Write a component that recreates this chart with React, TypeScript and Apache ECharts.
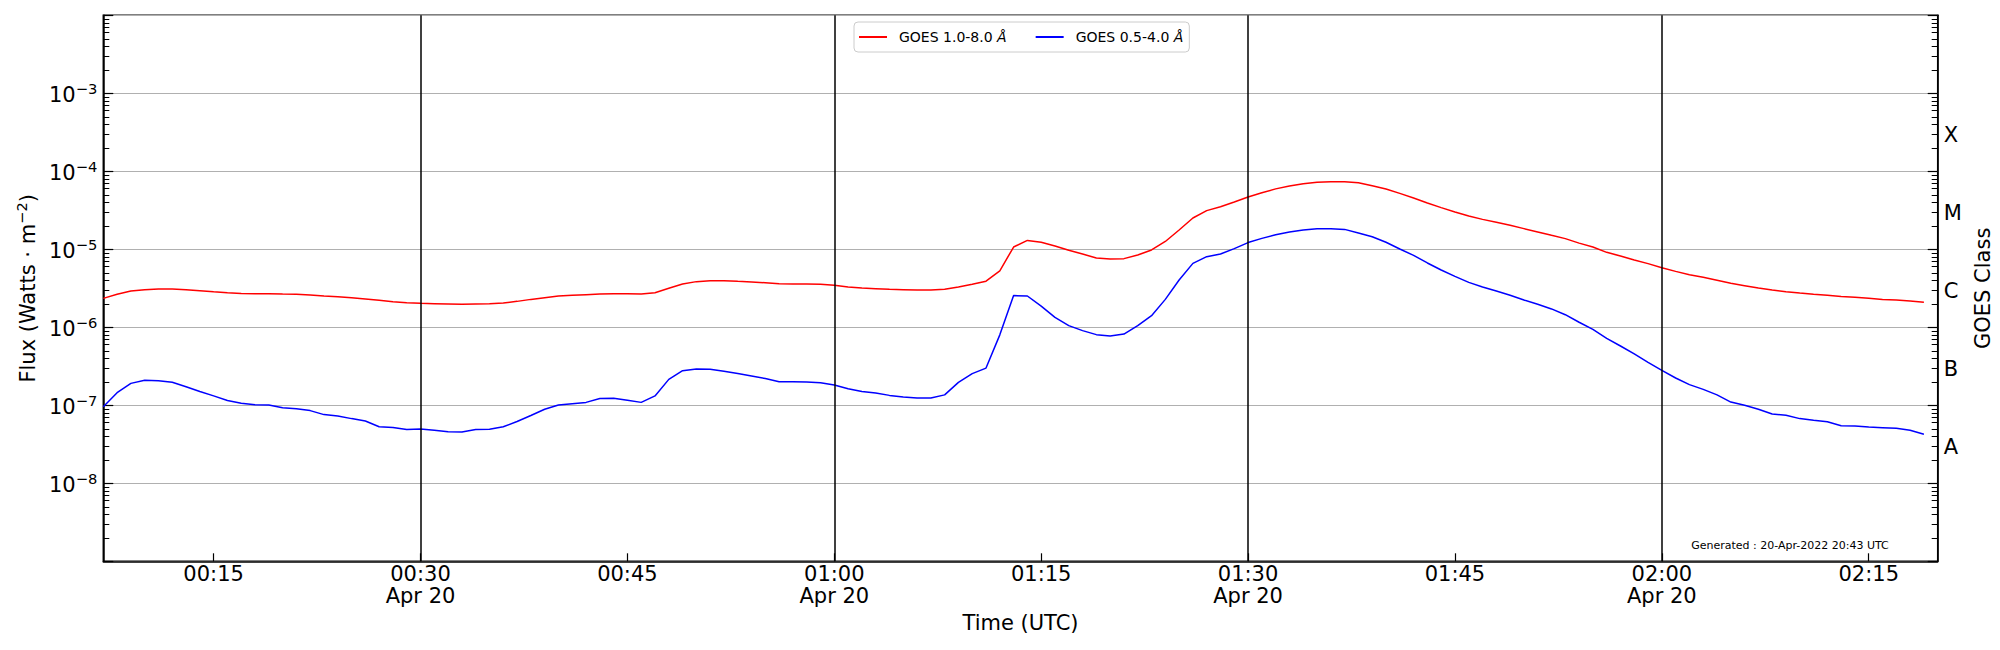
import React, { useEffect, useRef } from "react";
import * as echarts from "echarts";

// ---- time base (minutes after 00:00 UTC, 20 Apr 2022), 1-minute cadence ----
const START_MINUTE = 7;
const SAMPLE_STEP = 1;
const AXIS_MIN_MINUTE = 7;
const AXIS_MAX_MINUTE = 140;

// ---- GOES 1.0-8.0 Å flux (W m^-2), one value per minute from 00:07 ----
const XRS_LONG = [
  2.35e-6, 2.65e-6, 2.92e-6, 3.04e-6, 3.1e-6, 3.1e-6, 3.04e-6, 2.95e-6, 2.86e-6, 2.78e-6,
  2.72e-6, 2.7e-6, 2.7e-6, 2.67e-6, 2.65e-6, 2.59e-6, 2.52e-6, 2.47e-6, 2.4e-6, 2.31e-6,
  2.22e-6, 2.13e-6, 2.07e-6, 2.03e-6, 2.01e-6, 1.99e-6, 1.97e-6, 1.99e-6, 2.01e-6, 2.05e-6,
  2.15e-6, 2.28e-6, 2.4e-6, 2.52e-6, 2.57e-6, 2.62e-6, 2.67e-6, 2.7e-6, 2.7e-6, 2.67e-6,
  2.78e-6, 3.16e-6, 3.59e-6, 3.85e-6, 3.96e-6, 3.96e-6, 3.88e-6, 3.81e-6, 3.73e-6, 3.62e-6,
  3.59e-6, 3.59e-6, 3.56e-6, 3.45e-6, 3.29e-6, 3.19e-6, 3.13e-6, 3.07e-6, 3.04e-6, 3.01e-6,
  3.01e-6, 3.07e-6, 3.29e-6, 3.57e-6, 3.9e-6, 5.3e-6, 1.07e-5, 1.3e-5, 1.23e-5, 1.1e-5,
  9.7e-6, 8.7e-6, 7.73e-6, 7.5e-6, 7.59e-6, 8.45e-6, 9.8e-6, 1.26e-5, 1.77e-5, 2.52e-5,
  3.13e-5, 3.52e-5, 4.04e-5, 4.69e-5, 5.3e-5, 5.95e-5, 6.5e-5, 6.94e-5, 7.25e-5, 7.36e-5,
  7.36e-5, 7.14e-5, 6.54e-5, 5.93e-5, 5.21e-5, 4.55e-5, 3.93e-5, 3.42e-5, 3.01e-5, 2.67e-5,
  2.42e-5, 2.22e-5, 2.03e-5, 1.84e-5, 1.67e-5, 1.51e-5, 1.37e-5, 1.2e-5, 1.07e-5, 9.14e-6,
  8.2e-6, 7.3e-6, 6.55e-6, 5.81e-6, 5.21e-6, 4.73e-6, 4.37e-6, 4.0e-6, 3.66e-6, 3.42e-6,
  3.19e-6, 3.01e-6, 2.86e-6, 2.75e-6, 2.65e-6, 2.57e-6, 2.49e-6, 2.42e-6, 2.35e-6, 2.28e-6,
  2.24e-6, 2.17e-6, 2.09e-6,
];

// ---- GOES 0.5-4.0 Å flux (W m^-2), one value per minute from 00:07 ----
const XRS_SHORT = [
  9.6e-8, 1.45e-7, 1.91e-7, 2.09e-7, 2.07e-7, 1.97e-7, 1.73e-7, 1.5e-7, 1.32e-7, 1.15e-7,
  1.06e-7, 1.02e-7, 1.01e-7, 9.3e-8, 9.06e-8, 8.55e-8, 7.6e-8, 7.3e-8, 6.75e-8, 6.3e-8,
  5.3e-8, 5.2e-8, 4.88e-8, 4.97e-8, 4.78e-8, 4.59e-8, 4.55e-8, 4.88e-8, 4.92e-8, 5.3e-8,
  6.2e-8, 7.4e-8, 8.9e-8, 1.01e-7, 1.05e-7, 1.09e-7, 1.22e-7, 1.23e-7, 1.16e-7, 1.09e-7,
  1.32e-7, 2.15e-7, 2.78e-7, 2.92e-7, 2.89e-7, 2.73e-7, 2.55e-7, 2.38e-7, 2.2e-7, 2.01e-7,
  2.01e-7, 1.99e-7, 1.95e-7, 1.82e-7, 1.63e-7, 1.5e-7, 1.44e-7, 1.34e-7, 1.28e-7, 1.24e-7,
  1.24e-7, 1.36e-7, 1.97e-7, 2.55e-7, 3.0e-7, 8.0e-7, 2.55e-6, 2.52e-6, 1.87e-6, 1.34e-6,
  1.05e-6, 9.07e-7, 8.05e-7, 7.74e-7, 8.2e-7, 1.05e-6, 1.41e-6, 2.28e-6, 4.04e-6, 6.6e-6,
  8.05e-6, 8.7e-6, 1.02e-5, 1.22e-5, 1.38e-5, 1.54e-5, 1.67e-5, 1.77e-5, 1.84e-5, 1.84e-5,
  1.8e-5, 1.62e-5, 1.45e-5, 1.23e-5, 1.01e-5, 8.37e-6, 6.68e-6, 5.43e-6, 4.5e-6, 3.77e-6,
  3.29e-6, 2.92e-6, 2.57e-6, 2.24e-6, 1.97e-6, 1.72e-6, 1.45e-6, 1.16e-6, 9.4e-7, 7.23e-7,
  5.76e-7, 4.55e-7, 3.56e-7, 2.81e-7, 2.24e-7, 1.84e-7, 1.6e-7, 1.36e-7, 1.1e-7, 1.0e-7,
  8.9e-8, 7.74e-8, 7.44e-8, 6.75e-8, 6.42e-8, 6.17e-8, 5.48e-8, 5.43e-8, 5.27e-8, 5.17e-8,
  5.07e-8, 4.78e-8, 4.25e-8,
];

// ---- labels / ticks ----
const SERIES_NAMES = ["GOES 1.0-8.0 Å", "GOES 0.5-4.0 Å"];
const SERIES_BANDS = ["GOES 1.0-8.0", "GOES 0.5-4.0"];
const SERIES_COLORS = ["#ff0000", "#0000ff"];
const TIME_TICKS = [15, 30, 45, 60, 75, 90, 105, 120, 135];
const DAY_MARKS = [30, 60, 90, 120];
const DATE_LABEL = "Apr 20";
const DECADES = [1e-9, 1e-8, 1e-7, 1e-6, 1e-5, 1e-4, 1e-3, 1e-2];
const DECADE_LABELS = [1e-8, 1e-7, 1e-6, 1e-5, 1e-4, 1e-3];
const MINOR_MULTIPLIERS = [2, 3, 4, 5, 6, 7, 8, 9];
const CLASS_LETTERS = ["A", "B", "C", "M", "X"];
const CLASS_CENTERS = [3.1623e-8, 3.1623e-7, 3.1623e-6, 3.1623e-5, 3.1623e-4];
const Y_NAME = "Flux (Watts · m";
const Y_NAME_SUP = "−2";
const Y_NAME_END = ")";
const X_NAME = "Time (UTC)";
const RIGHT_NAME = "GOES Class";
const GENERATED_TEXT = "Generated : 20-Apr-2022 20:43 UTC";

const FONT = "DejaVu Sans";

const MINOR_TICKS: number[] = [];
DECADES.slice(0, -1).forEach((d) => MINOR_MULTIPLIERS.forEach((m) => MINOR_TICKS.push(m * d)));

const pad2 = (n: number) => (n < 10 ? "0" + n : "" + n);

function expLabel(v: number) {
  const e = Math.round(Math.log10(v));
  return `{b|10}{s|${e < 0 ? "−" : ""}${Math.abs(e)}}`;
}

function classLabel(v: number) {
  const lv = Math.log10(v);
  let best = 0;
  let bestD = Infinity;
  CLASS_CENTERS.forEach((c, i) => {
    const d = Math.abs(Math.log10(c) - lv);
    if (d < bestD) {
      bestD = d;
      best = i;
    }
  });
  return CLASS_LETTERS[best];
}

const GRID = { left: 103.3, top: 15.3, width: 1834.4, height: 546 };
const LOG_MIN = 1e-9;
const LOG_MAX = 1e-2;

function baseLogAxis(position: "left" | "right") {
  return {
    type: "log" as const,
    logBase: 10,
    min: LOG_MIN,
    max: LOG_MAX,
    position,
  };
}

export default function App() {
  const ref = useRef<HTMLDivElement>(null);

  useEffect(() => {
    document.body.style.margin = "0";
    if (!ref.current) return;
    const chart = echarts.init(ref.current, null, { renderer: "svg" });

    const supRich = {
      b: { fontSize: 21, lineHeight: 24, verticalAlign: "bottom", color: "#000", fontFamily: FONT },
      s: { fontSize: 14.7, lineHeight: 16, verticalAlign: "top", color: "#000", fontFamily: FONT },
      n: { fontSize: 21, lineHeight: 24, verticalAlign: "bottom", color: "#000", fontFamily: FONT },
    };

    const seriesData = [XRS_LONG, XRS_SHORT].map((arr) =>
      arr.map((v, i) => [START_MINUTE + i * SAMPLE_STEP, v])
    );

    const option: any = {
      animation: false,
      backgroundColor: "#ffffff",
      textStyle: { fontFamily: FONT, color: "#000" },
      grid: {
        ...GRID,
        show: true,
        borderColor: "#000",
        borderWidth: 1.5,
        backgroundColor: "transparent",
        containLabel: false,
        outerBoundsMode: "none",
      },
      legend: {
        left: 854,
        top: 22,
        orient: "horizontal",
        padding: [8, 6, 8, 5],
        itemGap: 29,
        itemWidth: 28,
        itemHeight: 2,
        icon: "rect",
        borderColor: "#cccccc",
        borderWidth: 1,
        borderRadius: 4,
        backgroundColor: "rgba(255,255,255,0.8)",
        data: SERIES_NAMES,
        formatter: (name: string) => {
          const i = SERIES_NAMES.indexOf(name);
          return `{t|${SERIES_BANDS[i]} }{i|Å}`;
        },
        textStyle: {
          fontFamily: FONT,
          fontSize: 14,
          color: "#000",
          rich: {
            t: { fontFamily: FONT, fontSize: 14, color: "#000", padding: [0, 0, 0, 7] },
            i: { fontFamily: FONT, fontSize: 14, color: "#000", fontStyle: "italic" },
          },
        },
      },
      xAxis: {
        type: "value",
        min: AXIS_MIN_MINUTE,
        max: AXIS_MAX_MINUTE,
        position: "bottom",
        axisLine: { show: true, lineStyle: { color: "#000", width: 1.5 } },
        axisTick: {
          show: true,
          inside: true,
          length: 8,
          customValues: TIME_TICKS,
          lineStyle: { color: "#000", width: 1.2 },
        },
        axisLabel: {
          show: true,
          customValues: TIME_TICKS,
          margin: 2,
          color: "#000",
          fontSize: 21,
          lineHeight: 22,
          fontFamily: FONT,
          formatter: (v: number) => {
            const h = Math.floor(v / 60);
            const m = Math.round(v - h * 60);
            const t = `${pad2(h)}:${pad2(m)}`;
            return DAY_MARKS.indexOf(v) >= 0 ? `${t}\n${DATE_LABEL}` : t;
          },
        },
        splitLine: { show: false },
        name: X_NAME,
        nameLocation: "middle",
        nameGap: 51,
        nameTextStyle: { fontSize: 21, color: "#000", fontFamily: FONT },
      },
      yAxis: [
        {
          ...baseLogAxis("left"),
          axisLine: { show: true, lineStyle: { color: "#000", width: 1.5 } },
          axisTick: {
            show: true,
            inside: true,
            length: 10,
            customValues: DECADES,
            lineStyle: { color: "#000", width: 1.2 },
          },
          axisLabel: {
            show: true,
            customValues: DECADE_LABELS,
            margin: 6,
            formatter: expLabel,
            rich: supRich,
          },
          splitLine: { show: true, lineStyle: { color: "#b0b0b0", width: 1.2 } },
          name: `{n|${Y_NAME}}{s|${Y_NAME_SUP}}{n|${Y_NAME_END}}`,
          nameLocation: "middle",
          nameRotate: 90,
          nameGap: 65,
          nameTextStyle: { rich: supRich, fontSize: 21, color: "#000", fontFamily: FONT },
        },
        {
          ...baseLogAxis("left"),
          axisLine: { show: false },
          axisTick: {
            show: true,
            inside: true,
            length: 6,
            customValues: MINOR_TICKS,
            lineStyle: { color: "#000", width: 1 },
          },
          axisLabel: { show: false },
          splitLine: { show: false },
        },
        {
          ...baseLogAxis("right"),
          axisLine: { show: true, lineStyle: { color: "#000", width: 1.5 } },
          axisTick: {
            show: true,
            inside: true,
            length: 10,
            customValues: DECADES,
            lineStyle: { color: "#000", width: 1.2 },
          },
          axisLabel: {
            show: true,
            customValues: CLASS_CENTERS,
            margin: 6,
            verticalAlign: "top",
            lineHeight: 6,
            color: "#000",
            fontSize: 21,
            fontFamily: FONT,
            formatter: classLabel,
          },
          splitLine: { show: false },
          name: RIGHT_NAME,
          nameLocation: "middle",
          nameRotate: 90,
          nameGap: 26,
          nameTextStyle: { fontSize: 21, color: "#000", fontFamily: FONT },
        },
        {
          ...baseLogAxis("right"),
          axisLine: { show: false },
          axisTick: {
            show: true,
            inside: true,
            length: 6,
            customValues: MINOR_TICKS,
            lineStyle: { color: "#000", width: 1 },
          },
          axisLabel: { show: false },
          splitLine: { show: false },
        },
      ],
      series: SERIES_NAMES.map((name, k) => ({
        name,
        type: "line",
        xAxisIndex: 0,
        yAxisIndex: 0,
        data: seriesData[k],
        showSymbol: false,
        symbol: "none",
        lineStyle: { color: SERIES_COLORS[k], width: 1.5 },
        itemStyle: { color: SERIES_COLORS[k] },
        z: 3,
        markLine:
          k === 0
            ? {
                silent: true,
                symbol: ["none", "none"],
                label: { show: false },
                lineStyle: { color: "#000", width: 1.5, type: "solid" },
                emphasis: { disabled: true },
                data: DAY_MARKS.map((v) => ({ xAxis: v })),
              }
            : undefined,
      })),
      graphic: [
        {
          type: "text",
          x: 1790,
          y: 545,
          z: 10,
          style: {
            text: GENERATED_TEXT,
            fontSize: 11,
            fontFamily: FONT,
            fill: "#000",
            align: "center",
            verticalAlign: "middle",
            textAlign: "center",
            textVerticalAlign: "middle",
          },
        },
      ],
    };

    chart.setOption(option);
    return () => chart.dispose();
  }, []);

  return (
    <div
      ref={ref}
      style={{ position: "fixed", left: 0, top: 0, width: 2000, height: 650, background: "#fff" }}
    />
  );
}
